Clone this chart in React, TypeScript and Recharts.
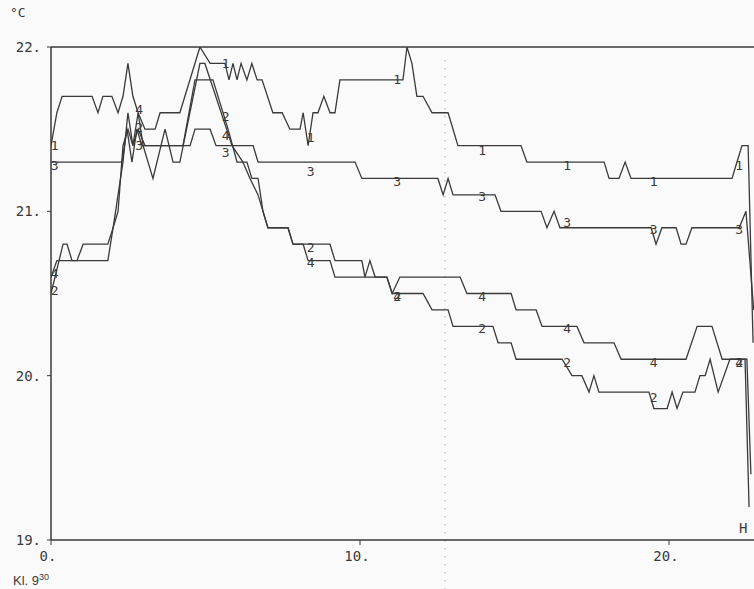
import { ComposedChart, Line, Scatter, XAxis, YAxis, ReferenceLine } from 'recharts';

// hours after 09:30, temperature in °C (vertices)
const line1: [number, number][] = [
  [0, 21.4], [0.19, 21.6], [0.36, 21.7], [1.33, 21.7], [1.52, 21.6], [1.68, 21.7], [1.97, 21.7],
  [2.17, 21.6], [2.33, 21.7], [2.49, 21.9], [2.65, 21.7], [2.82, 21.6], [3.04, 21.5], [3.37, 21.5],
  [3.53, 21.6], [4.17, 21.6], [4.82, 22.0], [5.15, 21.9], [5.63, 21.9], [5.76, 21.8], [5.89, 21.9],
  [6.02, 21.8], [6.15, 21.9], [6.34, 21.8], [6.5, 21.9], [6.67, 21.8], [6.83, 21.8], [7.18, 21.6],
  [7.48, 21.6], [7.73, 21.5], [8.06, 21.5], [8.16, 21.6], [8.32, 21.4], [8.48, 21.6], [8.64, 21.6],
  [8.83, 21.7], [9.03, 21.6], [9.19, 21.6], [9.35, 21.8], [11.39, 21.8], [11.52, 22.0], [11.68, 21.9],
  [11.84, 21.7], [12.04, 21.7], [12.33, 21.6], [12.85, 21.6], [13.17, 21.4], [15.21, 21.4], [15.4, 21.3],
  [17.9, 21.3], [18.06, 21.2], [18.38, 21.2], [18.58, 21.3], [18.77, 21.2], [22.04, 21.2], [22.2, 21.3],
  [22.36, 21.4], [22.56, 21.4], [22.72, 20.2],
];

const line2: [number, number][] = [
  [0, 20.5], [0.39, 20.8], [0.52, 20.8], [0.68, 20.7], [0.84, 20.7], [1.04, 20.8], [1.84, 20.8],
  [2.01, 20.9], [2.17, 21.1], [2.33, 21.3], [2.49, 21.6], [2.65, 21.4], [2.82, 21.5], [3.04, 21.4],
  [4.27, 21.4], [4.66, 21.8], [5.24, 21.8], [5.73, 21.5], [6.02, 21.3], [6.34, 21.3], [6.5, 21.2],
  [6.7, 21.2], [6.86, 21.0], [7.02, 20.9], [7.67, 20.9], [7.83, 20.8], [9.03, 20.8], [9.19, 20.7],
  [10.06, 20.7], [10.16, 20.6], [10.32, 20.7], [10.49, 20.6], [10.87, 20.6], [11.04, 20.5], [12.04, 20.5],
  [12.33, 20.4], [12.85, 20.4], [13.01, 20.3], [14.3, 20.3], [14.47, 20.2], [14.89, 20.2], [15.05, 20.1],
  [16.54, 20.1], [16.86, 20.0], [17.18, 20.0], [17.41, 19.9], [17.57, 20.0], [17.73, 19.9], [19.35, 19.9],
  [19.51, 19.8], [19.94, 19.8], [20.1, 19.9], [20.26, 19.8], [20.45, 19.9], [20.84, 19.9], [21.0, 20.0],
  [21.17, 20.0], [21.33, 20.1], [21.59, 19.9], [21.97, 20.1], [22.46, 20.1], [22.59, 19.2],
];

const line3: [number, number][] = [
  [0, 21.3], [2.3, 21.3], [2.46, 21.5], [2.62, 21.3], [2.78, 21.5], [2.94, 21.4], [4.5, 21.4],
  [4.66, 21.5], [5.15, 21.5], [5.34, 21.4], [6.54, 21.4], [6.7, 21.3], [9.84, 21.3], [10.06, 21.2],
  [12.52, 21.2], [12.69, 21.1], [12.85, 21.2], [13.01, 21.1], [14.37, 21.1], [14.56, 21.0], [15.86, 21.0],
  [16.05, 20.9], [16.28, 21.0], [16.47, 20.9], [19.42, 20.9], [19.58, 20.8], [19.77, 20.9], [20.23, 20.9],
  [20.39, 20.8], [20.55, 20.8], [20.74, 20.9], [22.27, 20.9], [22.49, 21.0], [22.74, 20.4],
];

const line4: [number, number][] = [
  [0, 20.6], [0.19, 20.7], [1.84, 20.7], [2.01, 20.9], [2.17, 21.0], [2.33, 21.4], [2.49, 21.5],
  [2.65, 21.4], [2.82, 21.6], [2.98, 21.4], [3.3, 21.2], [3.69, 21.5], [3.95, 21.3], [4.17, 21.3],
  [4.82, 21.9], [4.98, 21.9], [5.86, 21.4], [6.21, 21.3], [6.44, 21.2], [6.7, 21.1], [6.86, 21.0],
  [7.02, 20.9], [7.67, 20.9], [7.83, 20.8], [8.16, 20.8], [8.32, 20.7], [9.03, 20.7], [9.19, 20.6],
  [10.87, 20.6], [11.04, 20.5], [11.29, 20.6], [13.24, 20.6], [13.46, 20.5], [14.89, 20.5], [15.05, 20.4],
  [15.7, 20.4], [15.89, 20.3], [17.02, 20.3], [17.25, 20.2], [18.22, 20.2], [18.45, 20.1], [20.55, 20.1],
  [20.91, 20.3], [21.39, 20.3], [21.72, 20.1], [22.52, 20.1], [22.65, 19.4],
];

// where the plotter stamped the curve numbers (null = hidden under another number)
const labelTimes = [0.12, 2.85, 5.65, 8.4, 11.2, 13.95, 16.7, 19.5, 22.27];
const label1 = [21.4, null, 21.9, 21.45, 21.8, 21.37, 21.28, 21.18, 21.28];
const label2 = [20.52, 21.51, 21.58, 20.78, 20.48, 20.29, 20.08, 19.87, 20.08];
const label3 = [21.28, 21.4, 21.36, 21.24, 21.18, 21.09, 20.93, 20.89, 20.89];
const label4 = [20.62, 21.62, 21.46, 20.69, 20.48, 20.48, 20.29, 20.08, 20.08];

const yTicks = [19, 20, 21, 22];
const xTicks = [0, 10, 20];
const markerTime = 12.75;

const ink = '#3a3a3a';
const paper = '#fafafa';
const mono = '"DejaVu Sans Mono", "Liberation Mono", monospace';

const toRows = (pts: [number, number][]) => pts.map(([t, v]) => ({ t, v }));
const toLabels = (vals: (number | null)[]) =>
  vals
    .map((v, i) => ({ t: labelTimes[i], v }))
    .filter((d) => d.v !== null);

const series = [
  { name: '1', pts: line1, labels: label1 },
  { name: '2', pts: line2, labels: label2 },
  { name: '3', pts: line3, labels: label3 },
  { name: '4', pts: line4, labels: label4 },
];

const YTick = ({ x, y, payload }: any) => (
  <text x={x} y={y} textAnchor="end" dominantBaseline="central" fontFamily={mono} fontSize={14} fill={ink}>
    {payload.value}.
  </text>
);

const XTick = ({ x, y, payload }: any) => (
  <text x={x - 3} y={y} dy={10} textAnchor="middle" fontFamily={mono} fontSize={14} fill={ink}>
    {payload.value}.
  </text>
);

const glyph = (ch: string) => (p: any) => (
  <text
    x={p.cx}
    y={p.cy}
    textAnchor="middle"
    dominantBaseline="central"
    fontFamily={mono}
    fontSize={13}
    fill={ink}
  >
    {ch}
  </text>
);

export default function App() {
  return (
    <div
      style={{
        position: 'absolute',
        left: 0,
        top: 0,
        width: 754,
        height: 589,
        overflow: 'hidden',
        background: paper,
        fontFamily: mono,
        color: ink,
      }}
    >
      <ComposedChart width={754} height={589} margin={{ top: 47, right: 0, bottom: 0, left: 0 }}>
        <XAxis
          type="number"
          dataKey="t"
          domain={[0, 22.75]}
          ticks={xTicks}
          allowDataOverflow
          height={49}
          tick={<XTick />}
          tickSize={5}
          tickMargin={6}
          axisLine={{ stroke: ink, strokeWidth: 1.5 }}
          tickLine={{ stroke: ink }}
        />
        <YAxis
          type="number"
          domain={[19, 22]}
          ticks={yTicks}
          allowDataOverflow
          width={51}
          tick={<YTick />}
          tickSize={4}
          tickMargin={6}
          axisLine={{ stroke: ink, strokeWidth: 1.5 }}
          tickLine={{ stroke: ink }}
        />
        <ReferenceLine y={22} stroke={ink} strokeWidth={1.5} />
        <ReferenceLine
          segment={[
            { x: markerTime, y: 18.7 },
            { x: markerTime, y: 21.95 },
          ]}
          ifOverflow="visible"
          stroke="#8a8a8a"
          strokeDasharray="1 7"
        />
        {series.map((s) => (
          <Line
            key={'l' + s.name}
            data={toRows(s.pts)}
            dataKey="v"
            type="linear"
            stroke={ink}
            strokeWidth={1.3}
            dot={false}
            activeDot={false}
            isAnimationActive={false}
          />
        ))}
        {series.map((s) => (
          <Scatter
            key={'s' + s.name}
            data={toLabels(s.labels)}
            dataKey="v"
            shape={glyph(s.name)}
            isAnimationActive={false}
          />
        ))}
      </ComposedChart>
      <div style={{ position: 'absolute', left: 10, top: 5, fontSize: 13 }}>°C</div>
      <div style={{ position: 'absolute', left: 739, top: 520, fontSize: 14 }}>H</div>
      <div
        style={{
          position: 'absolute',
          left: 13,
          top: 572,
          fontSize: 13,
          fontFamily: '"Liberation Sans", Arial, sans-serif',
        }}
      >
        Kl. 9<sup style={{ fontSize: 9 }}>30</sup>
      </div>
    </div>
  );
}
